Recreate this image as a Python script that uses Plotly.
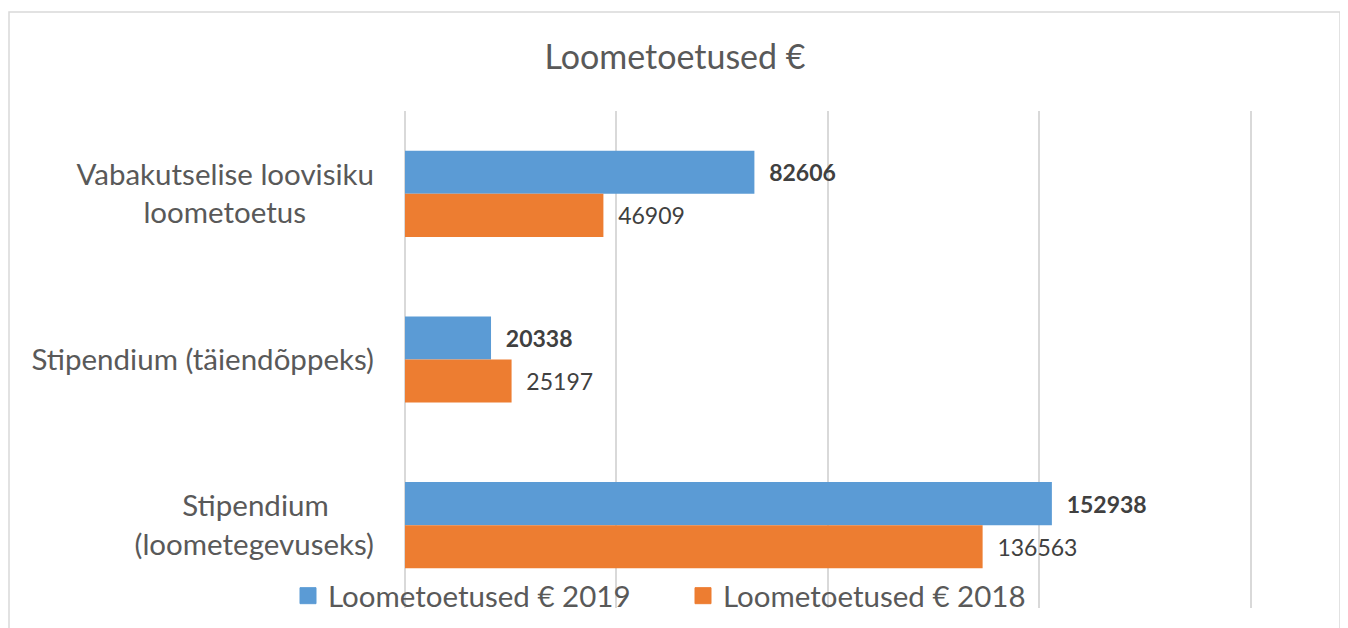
import plotly.graph_objects as go

NB = "\u00a0"
categories = ["Vabakutselise loovisiku<br>loometoetus" + NB * 9,
              "Stipendium (täiendõppeks)",
              "Stipendium" + NB * 6 + "<br>(loometegevuseks)"]
values_2019 = [82606, 20338, 152938]
values_2018 = [46909, 25197, 136563]
series_names = ["Loometoetused € 2019", "Loometoetused € 2018"]
title_text = "Loometoetused €"
colors = ["#5B9BD5", "#ED7D31"]

FONT = "Lato"
TXT = "#595959"
LBL = "#404040"

fig = go.Figure()
fig.add_trace(go.Bar(
    y=categories, x=values_2019, orientation="h", name=series_names[0],
    marker=dict(color=colors[0], line=dict(width=0)), showlegend=False,
    text=values_2019, texttemplate=NB * 2 + "<b>%{x:d}</b>", textposition="outside",
    textfont=dict(family=FONT, size=23, color=LBL), cliponaxis=False,
))
fig.add_trace(go.Bar(
    y=categories, x=values_2018, orientation="h", name=series_names[1],
    marker=dict(color=colors[1], line=dict(width=0)), showlegend=False,
    text=values_2018, texttemplate=NB * 2 + "%{x:d}", textposition="outside",
    textfont=dict(family=FONT, size=23, color=LBL), cliponaxis=False,
))
# legend-only entries with larger square symbols
for name, col in zip(series_names, colors):
    fig.add_trace(go.Scatter(
        x=[None], y=[None], mode="markers", name=name,
        marker=dict(symbol="square", size=16, color=col, line=dict(width=1, color=col)),
        hoverinfo="skip",
    ))

# page offset of 8px (body margin) compensated
W, H = 1340, 620
L, R, T, B = 397, 96, 103, 20
pw, ph = W - L - R, H - T - B

fig.update_layout(
    width=W, height=H,
    margin=dict(l=L, r=R, t=T, b=B, autoexpand=False),
    paper_bgcolor="white", plot_bgcolor="white",
    barmode="group", bargap=0.48, bargroupgap=0,
    title=dict(text=title_text, x=667 / W, xref="container", xanchor="center",
               y=1 - 49 / H, yanchor="middle", yref="container",
               font=dict(family=FONT, size=34, color=TXT)),
    xaxis=dict(range=[0, 200250], dtick=50000, showticklabels=False,
               showgrid=True, gridcolor="#D9D9D9", gridwidth=1.5,
               zeroline=True, zerolinecolor="#D9D9D9", zerolinewidth=1.5,
               showline=False, fixedrange=True),
    yaxis=dict(autorange="reversed", showgrid=False, ticks="",
               ticklabelstandoff=30, showline=False,
               tickfont=dict(family=FONT, size=29.5, color=TXT)),
    legend=dict(orientation="h", x=(675 - L) / pw, xanchor="center",
                y=(H - B - 588) / ph, yanchor="middle",
                font=dict(family=FONT, size=29.5, color=TXT),
                entrywidth=350, bgcolor="rgba(0,0,0,0)", traceorder="normal"),
    showlegend=True,
    shapes=[dict(type="rect", xref="paper", yref="paper",
                 x0=(1 - L) / pw, x1=(1332 - L) / pw,
                 y0=(H - B - 640) / ph, y1=(H - B - 4) / ph,
                 line=dict(color="#D9D9D9", width=1.5), layer="below")],
)

fig.write_html("out.html")
